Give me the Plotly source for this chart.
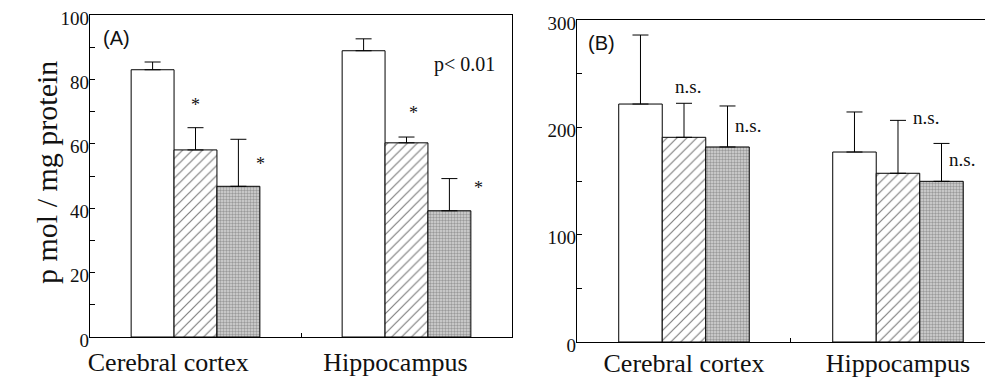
import plotly.graph_objects as go

categories = ["Cerebral cortex", "Hippocampus"]
# left-panel category labels are set off to the left in the original figure
a_ticktext = ["Cerebral cortex\u00a0\u00a0\u00a0\u00a0\u00a0", "Hippocampus"]

# Panel A values (pmol / mg protein) and upper SEM
a_control = [83, 88.9]
a_hatched = [58.1, 60.3]
a_dotted = [46.8, 39.2]
a_control_err = [2.4, 3.7]
a_hatched_err = [6.9, 1.8]
a_dotted_err = [14.6, 10.0]

# Panel B values and upper SEM
b_control = [221.7, 177]
b_hatched = [190.7, 157.2]
b_dotted = [181.7, 149.7]
b_control_err = [64.3, 37.3]
b_hatched_err = [31.7, 49.3]
b_dotted_err = [38.2, 35.3]

a_ticks = [0, 20, 40, 60, 80, 100]
b_ticks = [0, 100, 200, 300]

SERIF = "Liberation Serif, Times New Roman, serif"
SANS = "Liberation Sans, Arial, sans-serif"
# page has an 8px body margin, so the figure is 8px smaller than the window
W, H = 985, 372

white_marker = dict(color="white", line=dict(color="black", width=1))
hatch_marker = dict(color="white", line=dict(color="black", width=1),
                    pattern=dict(shape="/", size=7, solidity=0.17,
                                 fgcolor="black", bgcolor="white"))
dot_marker = dict(color="#bcbcbc", line=dict(color="black", width=1),
                  pattern=dict(shape=".", size=3, solidity=0.5,
                               fgcolor="#5e5e5e", bgcolor="#d6d6d6"))


def err(vals):
    return dict(type="data", symmetric=False, array=vals,
                arrayminus=[0] * len(vals), color="black",
                thickness=1, width=8)


fig = go.Figure()
for vals, errs, mk in [(a_control, a_control_err, white_marker),
                       (a_hatched, a_hatched_err, hatch_marker),
                       (a_dotted, a_dotted_err, dot_marker)]:
    fig.add_trace(go.Bar(x=categories, y=vals, marker=mk, error_y=err(errs),
                         xaxis="x", yaxis="y", showlegend=False))
for vals, errs, mk in [(b_control, b_control_err, white_marker),
                       (b_hatched, b_hatched_err, hatch_marker),
                       (b_dotted, b_dotted_err, dot_marker)]:
    fig.add_trace(go.Bar(x=categories, y=vals, marker=mk, error_y=err(errs),
                         xaxis="x2", yaxis="y2", showlegend=False))

common_x = dict(type="category", showline=True, linecolor="black", linewidth=1.2,
                mirror=True, ticks="inside", tickson="boundaries", ticklen=4,
                tickcolor="black", showgrid=False, zeroline=False,
                tickfont=dict(family=SERIF, size=26, color="#111"),
                automargin=False, ticklabelstandoff=2)
common_y = dict(showline=True, linecolor="black", linewidth=1.2,
                ticks="inside", ticklen=5, tickcolor="black",
                showgrid=False, zeroline=False, ticklabelstandoff=-4,
                ticklabelshift=3, ticklabeloverflow="allow",
                tickfont=dict(family=SERIF, size=19, color="#111"),
                automargin=False)

fig.update_layout(
    width=W, height=H,
    margin=dict(l=0, r=0, t=0, b=0),
    paper_bgcolor="white", plot_bgcolor="white",
    barmode="group", bargap=0.39, bargroupgap=0,
    xaxis=dict(common_x, domain=[82 / W, 504 / W], range=[-0.5, 1.5],
               anchor="y", ticklabelshift=-11,
               tickvals=categories, ticktext=a_ticktext),
    yaxis=dict(common_y, domain=[43 / H, 365 / H], range=[0, 100],
               tickvals=a_ticks, mirror=True, anchor="x",
               minor=dict(ticks="inside", dtick=10, ticklen=5, tickcolor="black")),
    xaxis2=dict(common_x, domain=[569 / W, 1.0], range=[-0.5, 1.444],
                anchor="y2", ticklabelstandoff=-2),
    yaxis2=dict(common_y, domain=[38 / H, 360 / H], range=[0, 300],
                tickvals=b_ticks, mirror=False, anchor="x2",
                minor=dict(ticks="inside", dtick=50, ticklen=5, tickcolor="black")),
)

ann = []
ann.append(dict(text="p mol / mg protein", x=19.5 / W, y=(H - 165) / H,
                xref="paper", yref="paper", textangle=-90, showarrow=False,
                font=dict(family=SERIF, size=30, color="#111")))
ann.append(dict(text="(A)", x=-0.45, y=93, xref="x", yref="y", xanchor="left",
                showarrow=False, font=dict(family=SANS, size=20, color="#111")))
ann.append(dict(text="p< 0.01", x=1.12, y=84.5, xref="x", yref="y", xanchor="left",
                showarrow=False, font=dict(family=SERIF, size=20, color="#111")))
for x, y in [(0.0, 72), (0.31, 53.7), (1.035, 69.5), (1.34, 46.3)]:
    ann.append(dict(text="*", x=x, y=y, xref="x", yref="y", showarrow=False,
                    font=dict(family=SERIF, size=18, color="#111")))
ann.append(dict(text="(B)", x=-0.46, y=278.6, xref="x2", yref="y2", xanchor="left",
                showarrow=False, font=dict(family=SANS, size=20, color="#111")))
for x, y in [(0.02, 238.5), (0.30, 202), (1.13, 208.7), (1.30, 169.6)]:
    ann.append(dict(text="n.s.", x=x, y=y, xref="x2", yref="y2", showarrow=False,
                    font=dict(family=SERIF, size=19, color="#111")))
fig.update_layout(annotations=ann)

fig.write_html("out.html")
